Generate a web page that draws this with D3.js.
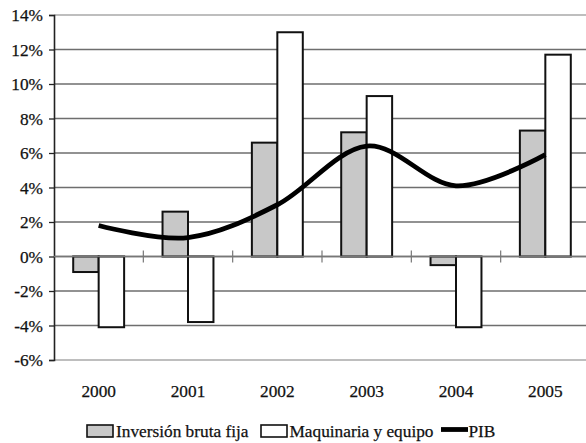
<!DOCTYPE html>
<html><head><meta charset="utf-8">
<script src="https://cdn.jsdelivr.net/npm/d3@7"></script>
</head>
<body style="margin:0;background:#fff">
<svg id="chart" width="586" height="443"></svg>
<script>
const years = ["2000","2001","2002","2003","2004","2005"];
const inversion = [-0.9, 2.6, 6.6, 7.2, -0.5, 7.3];
const maquinaria = [-4.1, -3.8, 13.0, 9.3, -4.1, 11.7];
const pib = [1.8, 1.1, 3.0, 6.4, 4.1, 5.9];
const yTicks = [-6, -4, -2, 0, 2, 4, 6, 8, 10, 12, 14];
const seriesNames = ["Inversión bruta fija", "Maquinaria y equipo", "PIB"];

const svg = d3.select("#chart");
const L = 54, R = 590, T = 15, B = 360;
const FF = '"Liberation Serif"';
const fs = "17.3px";
const txt = sel => sel.style("font-family", FF).style("font-size", fs).attr("fill", "#111")
  .attr("stroke", "#111").attr("stroke-width", 0.25);

const y = d3.scaleLinear().domain([-6, 14]).range([B, T]);
const x0 = d3.scaleBand().domain(years).range([L, R]).padding(0);
const bw = x0.bandwidth();
const x1 = d3.scaleBand().domain([0, 1]).range([bw * 0.215, bw * 0.785]).padding(0);

// gridlines
svg.append("g").selectAll("line").data(yTicks).join("line")
  .attr("x1", L).attr("x2", R)
  .attr("y1", d => y(d)).attr("y2", d => y(d))
  .attr("stroke", d => (d === 14 || d === -6) ? "#a8a8a8" : "#6e6e6e")
  .attr("stroke-width", 1.3);

// y axis
const yAxis = d3.axisLeft(y).tickValues(yTicks).tickSize(5).tickPadding(6)
  .tickFormat(d => d + "%");
const gy = svg.append("g").attr("transform", `translate(${L},0)`).call(yAxis);
gy.select(".domain").attr("stroke", "#222").attr("stroke-width", 1.6);
gy.selectAll(".tick line").attr("stroke", "#222").attr("stroke-width", 1.3);
gy.selectAll(".tick text").call(txt);

// bars
const groups = svg.append("g").selectAll("g").data(years).join("g")
  .attr("transform", d => `translate(${x0(d)},0)`);
groups.each(function(d, i) {
  const g = d3.select(this);
  [inversion[i], maquinaria[i]].forEach((v, k) => {
    g.append("rect")
      .attr("x", x1(k)).attr("width", x1.bandwidth())
      .attr("y", y(Math.max(0, v))).attr("height", Math.abs(y(v) - y(0)))
      .attr("fill", k === 0 ? "#c8c8c8" : "#ffffff")
      .attr("stroke", "#111").attr("stroke-width", 2);
  });
});

// category axis at zero with cross ticks between categories
const xAxisG = svg.append("g");
xAxisG.append("line").attr("x1", L).attr("x2", R).attr("y1", y(0)).attr("y2", y(0))
  .attr("stroke", "#777").attr("stroke-width", 1.3);
xAxisG.selectAll("line.tk").data(years.slice(1)).join("line").attr("class", "tk")
  .attr("x1", d => x0(d)).attr("x2", d => x0(d))
  .attr("y1", y(0) - 6).attr("y2", y(0) + 6)
  .attr("stroke", "#777").attr("stroke-width", 1.2);

// year labels
svg.append("g").selectAll("text").data(years).join("text")
  .attr("x", d => x0(d) + bw / 2).attr("y", 397)
  .attr("text-anchor", "middle").call(txt)
  .text(d => d);

// PIB line
const line = d3.line()
  .x((d, i) => x0(years[i]) + bw / 2)
  .y(d => y(d))
  .curve(d3.curveCatmullRom.alpha(0));
svg.append("path").datum(pib).attr("d", line)
  .attr("fill", "none").attr("stroke", "#000").attr("stroke-width", 4.8)
  .attr("stroke-linecap", "butt");

// legend
const leg = svg.append("g");
leg.append("rect").attr("x", 87).attr("y", 425).attr("width", 26).attr("height", 12)
  .attr("fill", "#c8c8c8").attr("stroke", "#111").attr("stroke-width", 1.6);
leg.append("text").attr("x", 116).attr("y", 437).call(txt).text(seriesNames[0]);
leg.append("rect").attr("x", 261).attr("y", 425).attr("width", 26).attr("height", 12)
  .attr("fill", "#fff").attr("stroke", "#111").attr("stroke-width", 1.6);
leg.append("text").attr("x", 289.5).attr("y", 437).call(txt).text(seriesNames[1]);
leg.append("line").attr("x1", 441).attr("x2", 468).attr("y1", 429.5).attr("y2", 429.5)
  .attr("stroke", "#000").attr("stroke-width", 4.8);
leg.append("text").attr("x", 468.5).attr("y", 437).call(txt).text(seriesNames[2]);
</script>
</body></html>
